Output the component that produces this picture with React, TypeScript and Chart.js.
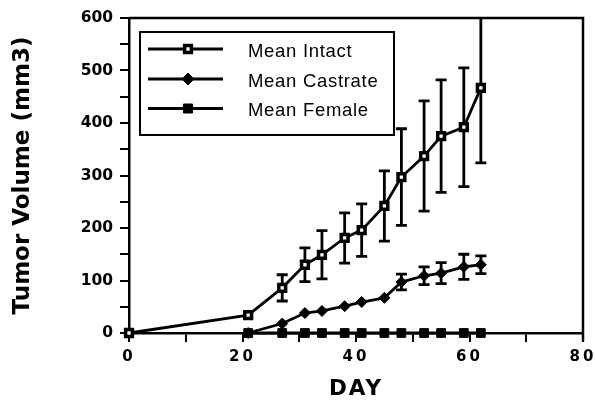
import React, { useEffect, useRef } from 'react';
import { Chart, registerables } from 'chart.js';

Chart.register(...registerables);

// ---- data ----
const seriesLabels = ['Mean Intact', 'Mean Castrate', 'Mean Female'];

const intactDays = [0, 21, 27, 31, 34, 38, 41, 45, 48, 52, 55, 59, 62];
const intactMean = [0, 34, 86, 130, 149, 181, 196, 242, 297, 337, 375, 392, 467];
const intactErr = [0, 0, 25, 32, 46, 48, 50, 67, 92, 105, 107, 113, 143];

const castrateDays = [21, 27, 31, 34, 38, 41, 45, 48, 52, 55, 59, 62];
const castrateMean = [0, 18, 38, 42, 51, 59, 67, 97, 109, 114, 126, 130];
const castrateErr = [0, 0, 0, 0, 0, 0, 0, 15, 17, 20, 24, 17];

const femaleDays = [21, 27, 31, 34, 38, 41, 45, 48, 52, 55, 59, 62];
const femaleMean = [0, 0, 0, 0, 0, 0, 0, 0, 0, 0, 0, 0];

const xTickLabels = ['0', '20', '40', '60', '80'];
const yTickLabels = ['0', '100', '200', '300', '400', '500', '600'];
const xAxisTitle = 'DAY';
const yAxisTitle = 'Tumor Volume (mm3)';

const toPoints = (xs: number[], ys: number[]) => xs.map((x, i) => ({ x, y: ys[i] }));

const AXIS_FONT = 'DejaVu Sans';
const LEGEND_FONT = 'Liberation Sans';

function wrapSpacing(scale: any, method: string, spacing: string) {
  const flag = '__ls_' + method;
  if (scale[flag]) return;
  const orig = scale[method];
  scale[method] = function (...args: any[]) {
    const ctx = this.ctx;
    const prev = ctx.letterSpacing;
    ctx.letterSpacing = spacing;
    try {
      return orig.apply(this, args);
    } finally {
      ctx.letterSpacing = prev;
    }
  };
  scale[flag] = true;
}

function drawMarker(ctx: CanvasRenderingContext2D, kind: string, x: number, y: number) {
  ctx.save();
  ctx.strokeStyle = '#000';
  ctx.fillStyle = '#000';
  if (kind === 'open') {
    ctx.lineWidth = 3.5;
    ctx.fillStyle = '#fff';
    ctx.beginPath();
    ctx.rect(x - 3.4, y - 3.4, 6.8, 6.8);
    ctx.fill();
    ctx.stroke();
  } else if (kind === 'diamond') {
    ctx.lineWidth = 1;
    ctx.beginPath();
    ctx.moveTo(x, y - 6);
    ctx.lineTo(x + 6, y);
    ctx.lineTo(x, y + 6);
    ctx.lineTo(x - 6, y);
    ctx.closePath();
    ctx.fill();
    ctx.stroke();
  } else {
    ctx.lineWidth = 1;
    ctx.beginPath();
    ctx.rect(x - 4.5, y - 4.5, 9, 9);
    ctx.fill();
    ctx.stroke();
  }
  ctx.restore();
}

const customPlugin = {
  id: 'customDecor',
  afterLayout(chart: any) {
    const xs = chart.scales.x;
    if (xs) {
      wrapSpacing(xs, 'drawLabels', '3px');
      wrapSpacing(xs, 'drawTitle', '2px');
    }
  },
  beforeDatasetsDraw(chart: any) {
    const { ctx, chartArea: a, scales } = chart;
    const x = scales.x;
    const y = scales.y;
    ctx.save();
    // frame: top and right
    ctx.strokeStyle = '#000';
    ctx.lineWidth = 2.5;
    ctx.beginPath();
    ctx.moveTo(a.left, a.top);
    ctx.lineTo(a.right, a.top);
    ctx.lineTo(a.right, a.bottom + 8);
    ctx.stroke();
    // error bars (clipped to plot area)
    ctx.beginPath();
    ctx.rect(a.left - 1, a.top, a.right - a.left + 2, a.bottom - a.top + 2);
    ctx.clip();
    ctx.lineWidth = 2.8;
    chart.data.datasets.forEach((ds: any) => {
      const errs: number[] | undefined = ds.errorBars;
      if (!errs) return;
      ds.data.forEach((p: any, j: number) => {
        const e = errs[j];
        if (!e) return;
        const px = x.getPixelForValue(p.x);
        const top = y.getPixelForValue(p.y + e);
        const bot = y.getPixelForValue(p.y - e);
        ctx.beginPath();
        ctx.moveTo(px, top);
        ctx.lineTo(px, bot);
        ctx.moveTo(px - 5.5, top);
        ctx.lineTo(px + 5.5, top);
        ctx.moveTo(px - 5.5, bot);
        ctx.lineTo(px + 5.5, bot);
        ctx.stroke();
      });
    });
    ctx.restore();
  },
  afterDraw(chart: any) {
    const ctx: CanvasRenderingContext2D = chart.ctx;
    const box = { left: 140, top: 32, width: 254, height: 103 };
    const lineYs = [49, 79, 108.5];
    const kinds = ['open', 'diamond', 'square'];
    ctx.save();
    ctx.strokeStyle = '#000';
    ctx.lineWidth = 2;
    ctx.fillStyle = '#fff';
    ctx.fillRect(box.left, box.top, box.width, box.height);
    ctx.strokeRect(box.left, box.top, box.width, box.height);
    chart.data.datasets.forEach((ds: any, i: number) => {
      const ly = lineYs[i];
      ctx.strokeStyle = '#000';
      ctx.lineWidth = 2.8;
      ctx.beginPath();
      ctx.moveTo(148, ly);
      ctx.lineTo(223, ly);
      ctx.stroke();
      drawMarker(ctx, kinds[i], 188, ly);
      ctx.fillStyle = '#000';
      ctx.font = `18.5px "${LEGEND_FONT}"`;
      (ctx as any).letterSpacing = '0.7px';
      ctx.textAlign = 'left';
      ctx.textBaseline = 'middle';
      ctx.fillText(ds.label, 248, ly + 2.5);
      (ctx as any).letterSpacing = '0px';
    });
    ctx.restore();
  },
};

export default function App() {
  const canvasRef = useRef<HTMLCanvasElement | null>(null);

  useEffect(() => {
    const canvas = canvasRef.current;
    if (!canvas) return;
    Chart.defaults.color = '#000';

    const chart = new Chart(canvas, {
      type: 'line',
      data: {
        datasets: [
          {
            label: seriesLabels[0],
            data: toPoints(intactDays, intactMean),
            errorBars: intactErr,
            borderColor: '#000',
            borderWidth: 2.8,
            pointStyle: 'rect',
            pointRadius: 4.8,
            pointBorderWidth: 3.5,
            pointBackgroundColor: '#fff',
            pointBorderColor: '#000',
            clip: false,
            order: 0,
          } as any,
          {
            label: seriesLabels[1],
            data: toPoints(castrateDays, castrateMean),
            errorBars: castrateErr,
            borderColor: '#000',
            borderWidth: 2.8,
            pointStyle: 'rectRot',
            pointRadius: 5.5,
            pointBorderWidth: 1,
            pointBackgroundColor: '#000',
            pointBorderColor: '#000',
            clip: false,
            order: 1,
          } as any,
          {
            label: seriesLabels[2],
            data: toPoints(femaleDays, femaleMean),
            borderColor: '#000',
            borderWidth: 2.8,
            pointStyle: 'rect',
            pointRadius: 6.2,
            pointBorderWidth: 1,
            pointBackgroundColor: '#000',
            pointBorderColor: '#000',
            clip: false,
            order: 2,
          } as any,
        ],
      },
      options: {
        responsive: false,
        animation: false,
        devicePixelRatio: 1,
        layout: { padding: { left: 0, top: 18, right: 12, bottom: 0 } },
        plugins: {
          legend: { display: false },
          tooltip: { enabled: false },
        },
        scales: {
          x: {
            type: 'linear',
            min: 0,
            max: 80,
            afterFit: (s: any) => {
              s.height = 67;
              s.paddingLeft = 0;
              s.paddingRight = 0;
            },
            border: { display: true, color: '#000', width: 2.5 },
            grid: {
              display: true,
              drawOnChartArea: false,
              drawTicks: true,
              tickLength: 9,
              color: '#000',
              lineWidth: 2,
            },
            ticks: {
              stepSize: 10,
              autoSkip: false,
              maxRotation: 0,
              padding: 6,
              color: '#000',
              font: { family: AXIS_FONT, size: 15, weight: 'bold' },
              callback: (v: any) => {
                const s = String(v);
                return xTickLabels.includes(s) ? s : '';
              },
            },
            title: {
              display: true,
              text: xAxisTitle,
              color: '#000',
              font: { family: AXIS_FONT, size: 21.5, weight: 'bold', lineHeight: 1 },
              padding: { top: 0, bottom: 0 },
            },
          },
          y: {
            type: 'linear',
            min: 0,
            max: 600,
            afterFit: (s: any) => {
              s.width = 129;
              s.paddingTop = 0;
              s.paddingBottom = 0;
            },
            border: { display: true, color: '#000', width: 2.5 },
            grid: {
              display: true,
              drawOnChartArea: false,
              drawTicks: true,
              tickLength: 9,
              color: '#000',
              lineWidth: 2,
            },
            ticks: {
              stepSize: 50,
              autoSkip: false,
              padding: 7,
              color: '#000',
              font: { family: AXIS_FONT, size: 15.5, weight: 'bold' },
              callback: (v: any) => {
                const s = String(v);
                return yTickLabels.includes(s) ? s : '';
              },
            },
            title: {
              display: true,
              text: yAxisTitle,
              color: '#000',
              font: { family: AXIS_FONT, size: 23, weight: 'bold', lineHeight: 1 },
              padding: { top: 11.5, bottom: 0 },
            },
          },
        },
      } as any,
      plugins: [customPlugin],
    });

    return () => {
      chart.destroy();
    };
  }, []);

  return (
    <div style={{ position: 'fixed', left: 0, top: 0, width: 595, height: 400, background: '#fff' }}>
      <canvas ref={canvasRef} width={595} height={400} style={{ width: 595, height: 400, display: 'block' }} />
    </div>
  );
}
